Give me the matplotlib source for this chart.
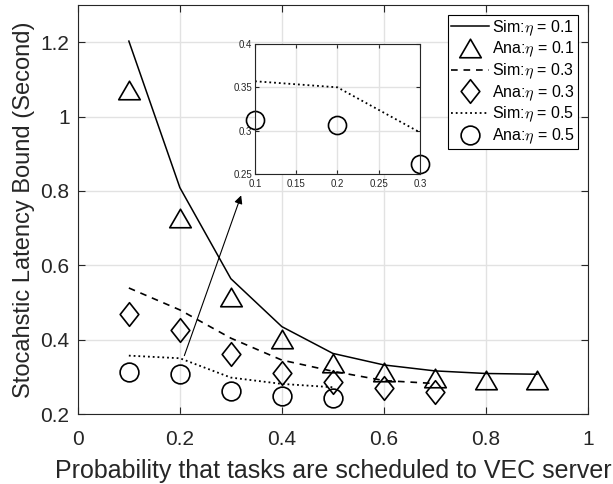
import matplotlib
matplotlib.use('Agg')
import matplotlib.pyplot as plt
from matplotlib.path import Path

plt.rcParams['font.family'] = ['Liberation Sans', 'DejaVu Sans']
plt.rcParams['mathtext.fontset'] = 'cm'

# probability values
p_01 = [0.1, 0.2, 0.3, 0.4, 0.5, 0.6, 0.7, 0.8, 0.9]
p_03 = [0.1, 0.2, 0.3, 0.4, 0.5, 0.6, 0.7]
p_05 = [0.1, 0.2, 0.3, 0.4, 0.5]

# simulation / analysis latency bounds
sim_01 = [1.203, 0.809, 0.564, 0.435, 0.363, 0.332, 0.316, 0.309, 0.307]
ana_01 = [1.071, 0.726, 0.515, 0.401, 0.337, 0.312, 0.298, 0.291, 0.291]
sim_03 = [0.539, 0.480, 0.404, 0.345, 0.315, 0.290, 0.282]
ana_03 = [0.470, 0.427, 0.361, 0.309, 0.287, 0.269, 0.258]
sim_05 = [0.357, 0.350, 0.298, 0.281, 0.272]
ana_05 = [0.312, 0.307, 0.261, 0.249, 0.243]

labels = ['Sim:$\\eta$ = 0.1', 'Ana:$\\eta$ = 0.1', 'Sim:$\\eta$ = 0.3',
          'Ana:$\\eta$ = 0.3', 'Sim:$\\eta$ = 0.5', 'Ana:$\\eta$ = 0.5']

# matlab-like marker shapes (wider than matplotlib's)
tri = Path([(-1, -0.86), (1, -0.86), (0, 0.86), (-1, -0.86)],
           [Path.MOVETO, Path.LINETO, Path.LINETO, Path.CLOSEPOLY])
dia = Path([(0, 1), (0.79, 0), (0, -1), (-0.79, 0), (0, 1)],
           [Path.MOVETO, Path.LINETO, Path.LINETO, Path.LINETO, Path.CLOSEPOLY])

ink = '#262626'

fig = plt.figure(figsize=(6.13, 4.84), dpi=100)
ax = fig.add_axes([0.127, 0.1446, 0.832, 0.845])

mk = dict(linestyle='none', mfc='none', mec='black', mew=1.2)
ax.plot(p_01, sim_01, '-', color='black', lw=1.1, label=labels[0])
ax.plot(p_01, ana_01, marker=tri, ms=15.5, label=labels[1], **mk)
ax.plot(p_03, sim_03, '--', color='black', lw=1.2, dashes=(4, 3.5), label=labels[2])
ax.plot(p_03, ana_03, marker=dia, ms=17, label=labels[3], **mk)
ax.plot(p_05, sim_05, ':', color='black', lw=1.3, label=labels[4])
ax.plot(p_05, ana_05, marker='o', ms=13.5, label=labels[5], **mk)

ax.set_xlim(0, 1)
ax.set_ylim(0.2, 1.3)
ax.set_xticks([0, 0.2, 0.4, 0.6, 0.8, 1])
ax.set_xticklabels(['0', '0.2', '0.4', '0.6', '0.8', '1'])
ax.set_yticks([0.2, 0.4, 0.6, 0.8, 1.0, 1.2])
ax.set_yticklabels(['0.2', '0.4', '0.6', '0.8', '1', '1.2'])
ax.tick_params(direction='in', top=True, right=True, labelsize=15, length=5,
               color=ink, labelcolor=ink)
ax.tick_params(axis='x', pad=11.5)
ax.tick_params(axis='y', pad=6)
ax.grid(True, color='#e2e2e2', lw=1)
ax.set_axisbelow(True)
for s in ax.spines.values():
    s.set_color(ink)
ax.set_xlabel('Probability that tasks are scheduled to VEC server', fontsize=18,
              labelpad=7, color=ink)
ax.set_ylabel('Stocahstic Latency Bound (Second)', fontsize=17, labelpad=4, color=ink)

leg = ax.legend(loc='upper right', bbox_to_anchor=(0.98, 0.9756), fontsize=11.5,
                frameon=True, fancybox=False, edgecolor='black', handlelength=2.4,
                handletextpad=0.15, borderpad=0.2, labelspacing=0.14, borderaxespad=0,
                framealpha=1)
leg.get_frame().set_linewidth(0.8)

# zoom-in arrow
ax.annotate('', xy=(0.322, 0.795), xytext=(0.207, 0.35),
            arrowprops=dict(arrowstyle='-|>', color='black', lw=0.8, mutation_scale=12))

# inset with the eta = 0.5 curves
ins = fig.add_axes([0.416, 0.6405, 0.269, 0.2686])
ins.plot(p_05, sim_05, ':', color='black', lw=1.3)
ins.plot(p_05[:3], ana_05[:3], marker='o', ms=13, clip_on=False, **mk)
ins.set_xlim(0.1, 0.3)
ins.set_ylim(0.25, 0.4)
ins.set_xticks([0.1, 0.15, 0.2, 0.25, 0.3])
ins.set_xticklabels(['0.1', '0.15', '0.2', '0.25', '0.3'])
ins.set_yticks([0.25, 0.3, 0.35, 0.4])
ins.set_yticklabels(['0.25', '0.3', '0.35', '0.4'])
ins.tick_params(direction='in', top=True, right=True, labelsize=7, length=3,
                color=ink, labelcolor=ink)
ins.tick_params(axis='y', pad=2)
ins.grid(True, color='#e2e2e2', lw=1)
ins.set_axisbelow(True)
for s in ins.spines.values():
    s.set_color(ink)

fig.savefig('out.png', dpi=100)
